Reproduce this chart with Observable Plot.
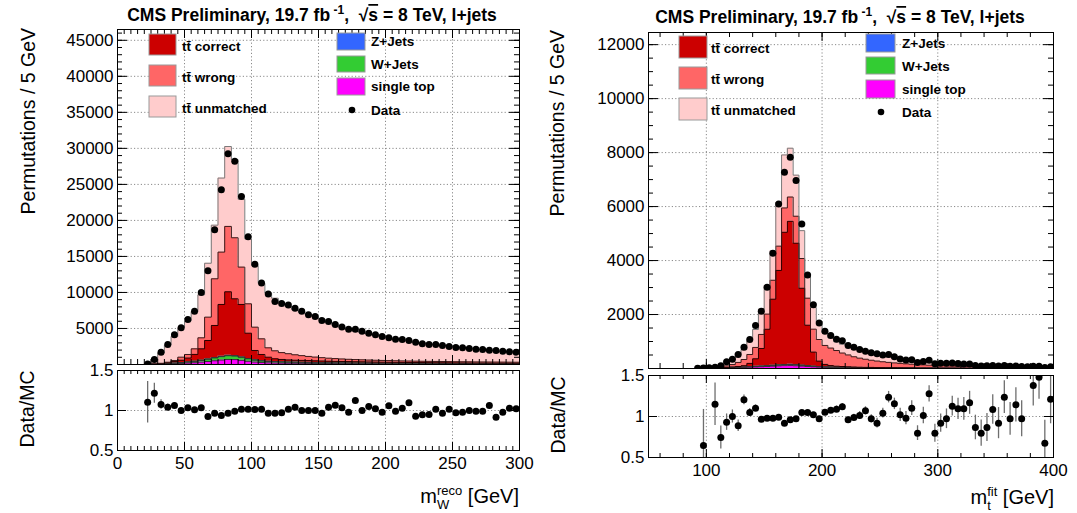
<!DOCTYPE html>
<html><head><meta charset="utf-8">
<script src="https://cdn.jsdelivr.net/npm/d3@7"></script>
<script src="https://cdn.jsdelivr.net/npm/@observablehq/plot@0.6"></script>
<style>
html,body{margin:0;padding:0;background:#fff;}
#root{position:relative;width:1077px;height:513px;overflow:hidden;background:#fff;font-family:"Liberation Sans",Arial,Helvetica,sans-serif;}
</style></head><body><div id="root"></div>
<script>
// ---------- binning ----------
const BIN = 5;
const leftStart = 20;   // first bin low edge, m_W^reco
const rightStart = 90;  // first bin low edge, m_t^fit

// ---------- left panel: m_W^reco (bins 20..300) ----------
const leftSingleTop = [5,20,50,80,110,150,200,250,330,420,520,620,700,680,580,450,340,270,230,205,190,178,168,160,150,142,135,128,122,116,110,105,100,96,92,88,84,80,77,74,71,68,65,63,61,59,57,55,53,51,50,48,47,46,45,44];
const leftWJets = [5,15,30,50,80,110,150,190,250,320,400,470,520,500,430,350,280,230,200,180,165,155,148,140,134,128,122,116,111,106,102,98,94,90,87,84,81,78,75,72,70,68,66,64,62,60,58,56,55,54,52,51,50,49,48,47];
const leftZJets = [0,2,4,6,8,10,14,18,24,30,38,45,50,48,42,34,28,24,21,19,18,17,16,15,14,13,13,12,12,11,11,10,10,10,9,9,9,8,8,8,8,7,7,7,7,7,6,6,6,6,6,6,5,5,5,5];
const leftCorrect = [5,23,46,94,202,330,536,942,1572,2563,4459,7198,8823,7892,7281,3518,1296,865,569,396,327,290,268,255,242,227,215,204,195,187,177,172,166,159,152,147,142,139,135,131,127,124,121,117,114,111,109,107,104,101,99,97,95,93,91,89];
const leftWrong = [5,20,40,90,156,420,489,776,1528,3241,6481,7269,9074,8473,5186,4074,3241,2176,1295,1100,950,860,750,660,580,520,465,420,380,350,325,300,280,265,252,238,226,215,205,197,189,183,177,172,167,163,160,156,153,150,147,144,142,139,137,135];
const leftUnmatched = [52,487,1421,2348,3320,4070,4661,5165,5977,7480,7440,10275,11091,10834,9421,9008,8543,7700,7600,7300,6950,6550,6250,5970,5780,5640,5350,4970,4630,4380,4175,3965,3800,3630,3468,3314,3158,3020,2890,2768,2645,2530,2424,2317,2219,2120,2030,1940,1859,1778,1706,1634,1561,1498,1434,1380];
const leftData = [80,690,1710,2780,4120,5090,6250,7400,10000,13000,18700,24260,29260,28200,23330,17730,13900,11300,9800,8750,8450,8250,7800,7400,6900,6670,6110,5970,5560,5190,4910,4900,4630,4350,4120,3890,3700,3520,3470,3330,3100,2870,2780,2770,2640,2500,2360,2310,2220,2130,2080,1990,1940,1850,1760,1710];
const leftRatio = [1.104,1.217,1.075,1.042,1.063,1.0,1.033,1.008,1.033,0.925,0.967,0.938,0.967,0.992,1.017,1.017,1.013,1.017,0.967,0.967,0.971,1.017,1.042,1.0,1.0,1.0,0.967,1.042,1.067,1.033,0.979,1.125,1.0,1.05,1.021,0.979,1.058,0.992,1.029,1.096,0.929,0.946,0.95,1.017,0.967,1.017,0.971,0.979,1.0,0.992,0.992,1.063,0.917,0.979,1.029,1.021];
const leftRatioErr = [0.26,0.125,0.06,0.04,0.03,0.03,0.02,0.02,0.02,0.02,0.01,0.01,0.01,0.01,0.01,0.01,0.01,0.02,0.02,0.02,0.02,0.02,0.02,0.02,0.02,0.02,0.02,0.02,0.02,0.02,0.02,0.02,0.02,0.02,0.02,0.02,0.02,0.02,0.02,0.02,0.02,0.02,0.02,0.02,0.02,0.02,0.02,0.02,0.02,0.02,0.02,0.03,0.03,0.03,0.03,0.03];

// ---------- right panel: m_t^fit (bins 90..400) ----------
const rightSingleTop = [5,8,12,15,20,25,30,36,42,50,58,66,75,85,95,105,108,100,88,75,62,52,45,40,36,33,30,27,25,23,21,19,17,16,15,14,13,12,11,10,9,9,8,8,7,7,6,6,5,5,5,4,4,4,4,3,3,3,3,3,2,2];
const rightWJets = [2,3,4,5,6,8,10,12,14,16,19,22,26,30,34,38,40,37,32,27,22,19,16,14,13,12,11,10,9,8,8,7,7,6,6,5,5,5,4,4,4,4,3,3,3,3,3,2,2,2,2,2,2,2,2,1,1,1,1,1,1,1];
const rightZJets = [0,0,1,1,1,1,2,2,2,3,3,4,4,5,5,6,6,6,5,4,4,3,3,3,2,2,2,2,2,2,1,1,1,1,1,1,1,1,1,1,1,1,1,1,1,1,1,0,0,0,0,0,0,0,0,0,0,0,0,0,0,0];
const rightCorrect = [0,0,1,2,4,8,15,25,45,120,280,650,1350,2450,3500,4900,5300,4500,2850,1500,520,200,90,50,35,26,20,16,13,11,10,9,8,7,6,6,5,5,4,4,4,3,3,3,3,2,2,2,2,2,2,1,1,1,1,1,1,1,1,1,1,1];
const rightWrong = [2,5,10,16,30,55,90,150,230,330,420,520,560,700,900,900,900,1000,1100,1000,850,800,700,650,580,500,440,380,335,300,267,240,217,198,180,164,150,137,127,116,106,97,90,82,76,70,65,61,57,52,48,45,42,39,36,34,32,30,28,26,25,23];
const rightUnmatched = [3,7,12,21,49,153,199,335,367,505,666,933,1058,1089,1614,1964,1808,1521,1033,820,800,660,459,378,326,327,347,345,316,286,283,269,230,192,167,155,146,135,128,123,116,111,105,99,92,85,78,72,66,61,56,53,48,44,41,39,36,33,30,28,26,25];
const rightData = [10,15,25,49,99,247,346,519,790,1074,1593,2123,3012,4272,6099,7272,7827,6963,5358,3469,2360,1685,1383,1222,1080,1025,850,790,700,642,587,543,500,519,433,352,314,325,219,261,306,179,193,191,205,184,169,167,114,97,98,114,89,111,82,89,71,68,87,87,37,63];
const rightRatio = [null,0.646,null,1.150,0.744,0.931,1.0,0.886,1.203,1.049,1.102,0.967,0.980,0.980,0.992,0.919,0.959,0.972,1.049,1.049,1.020,0.972,1.053,1.077,1.089,1.118,0.959,0.988,1.012,1.069,0.972,0.919,1.041,1.236,1.154,1.020,0.980,1.102,0.797,1.012,1.276,0.797,0.919,0.972,1.126,1.093,1.093,1.167,0.866,0.797,0.866,1.085,0.919,1.236,0.972,1.142,0.972,null,1.378,1.480,0.675,1.211];
const rightRatioErr = [0,0.44,0,0.26,0.14,0.10,0.08,0.07,0.06,0.05,0.04,0.03,0.02,0.02,0.02,0.02,0.02,0.02,0.02,0.02,0.03,0.03,0.03,0.03,0.04,0.04,0.04,0.04,0.05,0.05,0.05,0.06,0.06,0.07,0.07,0.08,0.08,0.09,0.09,0.10,0.10,0.11,0.11,0.12,0.12,0.13,0.14,0.14,0.15,0.16,0.17,0.18,0.19,0.20,0.20,0.21,0.22,0,0.25,0.27,0.28,0.30];

// ---------- ticks ----------
const leftXTicks = [0,50,100,150,200,250,300];
const leftYTicks = [5000,10000,15000,20000,25000,30000,35000,40000,45000];
const rightXTicks = [100,200,300,400];
const rightYTicks = [2000,4000,6000,8000,10000,12000];
const ratioTicks = [0.5,1,1.5];

// ---------- legend ----------
const legendNames = ["tt\u0304 correct","tt\u0304 wrong","tt\u0304 unmatched","Z+Jets","W+Jets","single top","Data"];
const colors = {correct:"#cc0000", wrong:"#ff6666", unmatched:"#ffcccc", zjets:"#3366ff", wjets:"#33cc33", single:"#ff00ff"};

const root = document.getElementById("root");
const FONT = '"Liberation Sans", Arial, Helvetica, sans-serif';

function stackLayers(start, layers) {
  const n = layers[0].values.length;
  const base = new Array(n).fill(0);
  return layers.map(L => {
    const rows = [];
    for (let i = 0; i < n; i++) {
      const lo = base[i], hi = base[i] + L.values[i];
      rows.push({x: start + BIN * i, y1: lo, y2: hi});
      base[i] = hi;
    }
    rows.push({x: start + BIN * n, y1: rows[n - 1].y1, y2: rows[n - 1].y2});
    const outline = [{x: start, y: 0}, ...rows.map(r => ({x: r.x, y: r.y2})), {x: start + BIN * n, y: 0}];
    return {...L, rows, outline};
  });
}

function tickMarks(xMaj, xMin, yMaj, yMin, fw, fh, xl, xs, yl, ys) {
  const m = [];
  const o = {stroke: "black", strokeWidth: 1};
  m.push(Plot.tickX(xMaj, {x: d => d, insetTop: fh - xl, ...o}));
  m.push(Plot.tickX(xMaj, {x: d => d, insetBottom: fh - xl, ...o}));
  m.push(Plot.tickX(xMin, {x: d => d, insetTop: fh - xs, ...o}));
  m.push(Plot.tickX(xMin, {x: d => d, insetBottom: fh - xs, ...o}));
  m.push(Plot.tickY(yMaj, {y: d => d, insetRight: fw - yl, ...o}));
  m.push(Plot.tickY(yMaj, {y: d => d, insetLeft: fw - yl, ...o}));
  if (yMin.length) {
    m.push(Plot.tickY(yMin, {y: d => d, insetRight: fw - ys, ...o}));
    m.push(Plot.tickY(yMin, {y: d => d, insetLeft: fw - ys, ...o}));
  }
  return m;
}

const gridStyle = {stroke: "#8a8a8a", strokeOpacity: 1, strokeWidth: 1, strokeDasharray: "1.2,2.2"};

function place(svg, left, top) {
  svg.style.position = "absolute";
  svg.style.left = left + "px";
  svg.style.top = top + "px";
  svg.style.overflow = "visible";
  svg.style.background = "transparent";
  root.appendChild(svg);
}

function mainPanel(cfg) {
  const {left, top, width, height, m, xDomain, yDomain, start, layers, data, xMaj, xMin, yMaj, yMin} = cfg;
  const fw = width - m[3] - m[1], fh = height - m[0] - m[2];
  const st = stackLayers(start, layers);
  const pts = data.map((v, i) => ({x: start + BIN * i + BIN / 2, y: v}));
  const svg = Plot.plot({
    width, height, marginTop: m[0], marginRight: m[1], marginBottom: m[2], marginLeft: m[3],
    style: {fontFamily: FONT, fontSize: "17px", background: "transparent", overflow: "visible"},
    x: {domain: xDomain, axis: null},
    y: {domain: yDomain, axis: null},
    marks: [
      Plot.gridX(xMaj, gridStyle),
      Plot.gridY(yMaj, gridStyle),
      ...st.map(L => Plot.areaY(L.rows, {x: "x", y1: "y1", y2: "y2", fill: L.color, curve: "step-after", clip: true})),
      ...st.map(L => Plot.lineY(L.outline, {x: "x", y: "y", stroke: L.edge, strokeWidth: 1, curve: "step-after", clip: true})),
      Plot.dot(pts, {x: "x", y: "y", r: 3.5, fill: "black", stroke: "none", clip: true}),
      ...tickMarks(xMaj, xMin, yMaj, yMin, fw, fh, 9, 5, 10, 5),
      Plot.axisY(yMaj, {anchor: "left", tickSize: 0, tickPadding: 4, label: null, tickFormat: d => String(d), fill: "black", fontSize: 17}),
      Plot.frame({stroke: "black", strokeWidth: 1})
    ]
  });
  place(svg, left, top);
}

function ratioPanel(cfg) {
  const {left, top, width, height, m, xDomain, start, ratio, err, xMaj, xMin} = cfg;
  const fw = width - m[3] - m[1], fh = height - m[0] - m[2];
  const rows = ratio.map((r, i) => ({x: start + BIN * i + BIN / 2, r, e: err[i]})).filter(d => d.r != null);
  const svg = Plot.plot({
    width, height, marginTop: m[0], marginRight: m[1], marginBottom: m[2], marginLeft: m[3],
    style: {fontFamily: FONT, fontSize: "17px", background: "transparent", overflow: "visible"},
    x: {domain: xDomain, axis: null},
    y: {domain: [0.5, 1.5], axis: null},
    marks: [
      Plot.gridX(xMaj, gridStyle),
      Plot.gridY([1], gridStyle),
      Plot.ruleX(rows.filter(d => d.e > 0), {x: "x", y1: d => d.r - d.e, y2: d => d.r + d.e, stroke: "#6e6e6e", strokeWidth: 1.3, clip: true}),
      Plot.dot(rows, {x: "x", y: "r", r: 3.5, fill: "black", stroke: "none", clip: true}),
      ...tickMarks(xMaj, xMin, ratioTicks, [], fw, fh, 8, 4, 9, 0),
      Plot.axisX(xMaj, {anchor: "bottom", tickSize: 0, tickPadding: 6, label: null, tickFormat: d => String(d), fill: "black", fontSize: 17}),
      Plot.axisY(ratioTicks, {anchor: "left", tickSize: 0, tickPadding: 4, label: null, tickFormat: d => String(d), fill: "black", fontSize: 17}),
      Plot.frame({stroke: "black", strokeWidth: 1})
    ]
  });
  place(svg, left, top);
}

function layerSet(single, w, z, c, wr, u) {
  return [
    {values: single, color: colors.single, edge: "#333"},
    {values: w, color: colors.wjets, edge: "#333"},
    {values: z, color: colors.zjets, edge: "#333"},
    {values: c, color: colors.correct, edge: "#2a0000"},
    {values: wr, color: colors.wrong, edge: "#3a1a1a"},
    {values: u, color: colors.unmatched, edge: "#7a7a7a"}
  ];
}

// Left
mainPanel({
  left: 0, top: 0, width: 540, height: 366, m: [29, 21, 2, 117],
  xDomain: [0, 300], yDomain: [0, 46500], start: leftStart,
  layers: layerSet(leftSingleTop, leftWJets, leftZJets, leftCorrect, leftWrong, leftUnmatched),
  data: leftData, xMaj: leftXTicks, xMin: d3.range(0, 301, 5), yMaj: leftYTicks, yMin: d3.range(1000, 46500, 1000)
});
ratioPanel({
  left: 0, top: 366, width: 540, height: 147, m: [4, 21, 63, 117],
  xDomain: [0, 300], start: leftStart, ratio: leftRatio, err: leftRatioErr,
  xMaj: leftXTicks, xMin: d3.range(0, 301, 5)
});
// Right
mainPanel({
  left: 540, top: 0, width: 537, height: 370, m: [32, 24, 2, 108],
  xDomain: [50, 400], yDomain: [0, 12450], start: rightStart,
  layers: layerSet(rightSingleTop, rightWJets, rightZJets, rightCorrect, rightWrong, rightUnmatched),
  data: rightData, xMaj: rightXTicks, xMin: d3.range(60, 400, 20), yMaj: rightYTicks, yMin: d3.range(500, 12450, 500)
});
ratioPanel({
  left: 540, top: 370, width: 537, height: 143, m: [5, 24, 56, 108],
  xDomain: [50, 400], start: rightStart, ratio: rightRatio, err: rightRatioErr,
  xMaj: rightXTicks, xMin: d3.range(60, 400, 20)
});

// ---------- text overlay ----------
const ov = d3.select(root).append("svg")
  .attr("width", 1077).attr("height", 513)
  .style("position", "absolute").style("left", "0px").style("top", "0px")
  .style("pointer-events", "none").style("font-family", FONT);

function title(cx, y) {
  const t = ov.append("text").attr("x", cx).attr("y", y).attr("text-anchor", "middle")
    .attr("font-weight", "bold").attr("font-size", 17.5).style("white-space", "pre");
  t.append("tspan").text("CMS Preliminary, 19.7 fb");
  t.append("tspan").attr("dy", -7).attr("font-size", 12).text(" -1");
  t.append("tspan").attr("dy", 7).text(",  \u221A");
  t.append("tspan").style("text-decoration", "overline").text("s");
  t.append("tspan").text(" = 8 TeV, l+jets");
}
title(312, 21);
title(840, 23);

function yTitle(x, yEnd, txt, anchor) {
  ov.append("text").attr("transform", `translate(${x},${yEnd}) rotate(-90)`)
    .attr("text-anchor", anchor).attr("font-size", 19.5).text(txt);
}
yTitle(35, 28, "Permutations / 5 GeV", "end");
yTitle(34, 409, "Data/MC", "middle");
yTitle(564, 30, "Permutations / 5 GeV", "end");
yTitle(565, 415, "Data/MC", "middle");

function xTitle(xEnd, y, sup, sub) {
  const t = ov.append("text").attr("x", xEnd).attr("y", y).attr("text-anchor", "end").attr("font-size", 20).style("white-space", "pre");
  t.append("tspan").text("m");
  const sp = t.append("tspan").attr("dy", -8).attr("font-size", 13).text(sup);
  const supW = sp.node().getComputedTextLength();
  const sb = t.append("tspan").attr("dx", -supW).attr("dy", 14).attr("font-size", 13).text(sub);
  const subW = sb.node().getComputedTextLength();
  t.append("tspan").attr("dx", Math.max(0, supW - subW)).attr("dy", -6).text(" [GeV]");
}
xTitle(519, 503, "reco", "W");
xTitle(1054, 504, "fit", "t");

function legend(cfg) {
  const {bx, bw, boxes, tx, dot} = cfg;
  const fills = [colors.correct, colors.wrong, colors.unmatched, colors.zjets, colors.wjets, colors.single];
  boxes.forEach((b, i) => {
    ov.append("rect").attr("x", b.x).attr("y", b.y).attr("width", b.w).attr("height", b.h)
      .attr("fill", fills[i]).attr("stroke", "#9a9a9a").attr("stroke-width", 1);
    ov.append("text").attr("x", b.tx).attr("y", b.ty).attr("font-weight", "bold").attr("font-size", 13.5).text(legendNames[i]);
  });
  ov.append("circle").attr("cx", dot.x).attr("cy", dot.y).attr("r", 3.3).attr("fill", "black");
  ov.append("text").attr("x", dot.tx).attr("y", dot.ty).attr("font-weight", "bold").attr("font-size", 13.5).text(legendNames[6]);
}
legend({
  boxes: [
    {x: 149, y: 34, w: 27, h: 21, tx: 182, ty: 51},
    {x: 149, y: 65, w: 27, h: 21, tx: 182, ty: 82},
    {x: 149, y: 96, w: 27, h: 21, tx: 182, ty: 113},
    {x: 337, y: 33, w: 28, h: 17, tx: 371, ty: 46},
    {x: 337, y: 56, w: 28, h: 16, tx: 371, ty: 69},
    {x: 337, y: 78, w: 28, h: 17, tx: 371, ty: 91}
  ],
  dot: {x: 352, y: 110, tx: 371, ty: 115}
});
legend({
  boxes: [
    {x: 679, y: 36, w: 28, h: 22, tx: 711, ty: 53},
    {x: 679, y: 67, w: 28, h: 22, tx: 711, ty: 84},
    {x: 679, y: 98, w: 28, h: 22, tx: 711, ty: 115},
    {x: 866, y: 34, w: 29, h: 18, tx: 902, ty: 48},
    {x: 866, y: 57, w: 29, h: 17, tx: 902, ty: 71},
    {x: 866, y: 80, w: 29, h: 18, tx: 902, ty: 94}
  ],
  dot: {x: 881, y: 112, tx: 902, ty: 117}
});
</script></body></html>
